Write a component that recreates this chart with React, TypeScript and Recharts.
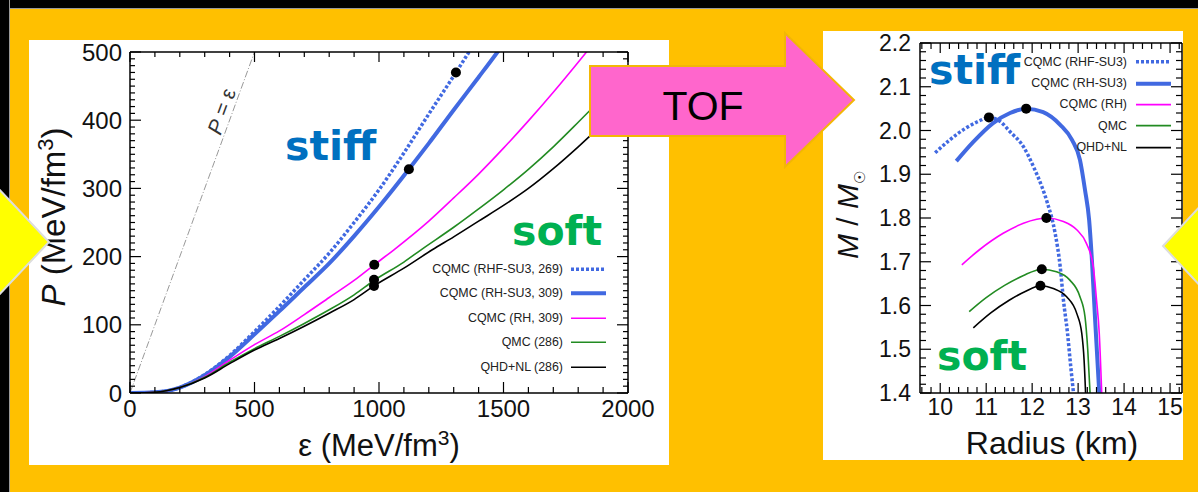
import React from 'react';
import { ComposedChart, Line, XAxis, YAxis, Legend } from 'recharts';

const FONT = '"Liberation Sans", Arial, Helvetica, sans-serif';
const BOLD_FONT = '"DejaVu Sans", Verdana, sans-serif';
const ORANGE = '#FFC000';
const BLUE = '#4169E1';
const MAGENTA = '#FF00FF';
const GREEN = '#228B22';
const STIFF = '#0070C0';
const SOFT = '#00B050';

// equation of state: energy density eps vs pressure P (both MeV/fm^3)
const eosRhfSu3: [number, number][] = [
  [0, 0], [100, 1], [200, 8], [300, 27], [400, 55], [500, 90], [600, 127], [700, 166],
  [800, 205], [900, 250], [1000, 298], [1100, 352], [1200, 409], [1309, 470], [1365, 502], [1400, 522],
];
const eosRhSu3: [number, number][] = [
  [0, 0], [100, 1], [200, 8], [300, 26], [400, 53], [500, 86], [600, 120], [700, 155],
  [800, 190], [900, 230], [1000, 273], [1120, 328], [1200, 366], [1300, 415], [1400, 463], [1476, 500], [1500, 512],
];
const eosRh: [number, number][] = [
  [0, 0], [100, 1], [200, 8], [300, 24], [400, 48], [500, 71], [600, 91], [700, 115],
  [800, 140], [900, 165], [981, 188], [1060, 210], [1200, 252], [1300, 286], [1400, 321],
  [1500, 359], [1600, 399], [1700, 441], [1800, 485], [1840, 503],
];
const eosQmc: [number, number][] = [
  [0, 0], [100, 1], [200, 8], [300, 23], [400, 45], [500, 65], [600, 83], [700, 102],
  [800, 122], [900, 144], [980, 165], [1100, 192], [1169, 210], [1300, 243], [1400, 270],
  [1500, 298], [1600, 328], [1700, 361], [1800, 397], [1900, 434], [2000, 472],
];
const eosQhdNl: [number, number][] = [
  [0, 0], [100, 1], [200, 8], [300, 22], [400, 43], [500, 63], [600, 80], [700, 98],
  [800, 117], [900, 137], [980, 157], [1100, 183], [1214, 210], [1300, 229], [1400, 252],
  [1500, 275], [1600, 300], [1700, 329], [1800, 361], [1900, 395], [2000, 430],
];
const eosCausal: [number, number][] = [[0, 0], [500, 500]];
const eosMaxMass: [number, number][] = [[1309, 470], [1120, 328], [981, 188], [980, 166], [980, 157]];

// mass-radius: R (km) vs M / Msun
const mrRhfSu3: [number, number][] = [
  [9.89, 1.949], [10.2, 1.978], [10.55, 2.005], [10.85, 2.022], [11.06, 2.03], [11.3, 2.021],
  [11.52, 1.997], [11.81, 1.963], [12.03, 1.917], [12.21, 1.872], [12.33, 1.835], [12.5, 1.765],
  [12.61, 1.689], [12.68, 1.613], [12.77, 1.536], [12.84, 1.46], [12.92, 1.38],
];
const mrRhSu3: [number, number][] = [
  [10.35, 1.93], [10.72, 1.974], [11.15, 2.017], [11.52, 2.04], [11.87, 2.05], [12.24, 2.042],
  [12.61, 2.013], [12.87, 1.978], [13.04, 1.933], [13.15, 1.864], [13.24, 1.795], [13.3, 1.704],
  [13.37, 1.567], [13.46, 1.4], [13.47, 1.38],
];
const mrRh: [number, number][] = [
  [10.47, 1.693], [10.86, 1.728], [11.37, 1.765], [11.81, 1.788], [12.1, 1.797], [12.31, 1.8],
  [12.68, 1.792], [12.97, 1.773], [13.18, 1.742], [13.33, 1.689], [13.4, 1.613], [13.46, 1.536], [13.52, 1.38],
];
const mrQmc: [number, number][] = [
  [10.63, 1.586], [11.0, 1.618], [11.4, 1.646], [11.8, 1.668], [12.21, 1.683], [12.53, 1.677],
  [12.82, 1.658], [13.04, 1.62], [13.15, 1.574], [13.21, 1.498], [13.27, 1.38],
];
const mrQhdNl: [number, number][] = [
  [10.72, 1.549], [11.1, 1.583], [11.5, 1.612], [11.85, 1.632], [12.18, 1.645], [12.46, 1.639],
  [12.75, 1.62], [12.97, 1.582], [13.08, 1.536], [13.13, 1.475], [13.17, 1.38],
];
const mrMaxMass: [number, number][] = [[11.06, 2.03], [11.87, 2.05], [12.31, 1.8], [12.21, 1.683], [12.18, 1.645]];

const eosNames = ['CQMC (RHF-SU3, 269)', 'CQMC (RH-SU3, 309)', 'CQMC (RH, 309)', 'QMC (286)', 'QHD+NL (286)'];
const mrNames = ['CQMC (RHF-SU3)', 'CQMC (RH-SU3)', 'CQMC (RH)', 'QMC', 'QHD+NL'];

const epsTicks = [0, 500, 1000, 1500, 2000];
const presTicks = [0, 100, 200, 300, 400, 500];
const radiusTicks = [10, 11, 12, 13, 14, 15];
const massTicks = [1.4, 1.5, 1.6, 1.7, 1.8, 1.9, 2.0, 2.1, 2.2];

const radiusDomain: [number, number] = [9.56, 15.26];

const styles = [
  { color: BLUE, width: 3.5, dash: '3 2' },
  { color: BLUE, width: 4, dash: undefined },
  { color: MAGENTA, width: 1.6, dash: undefined },
  { color: GREEN, width: 1.6, dash: undefined },
  { color: '#000', width: 1.6, dash: undefined },
];

const toEos = (a: [number, number][]) => a.map(([e, p]) => ({ e, p }));
const toMr = (a: [number, number][]) => a.map(([r, m]) => ({ r, m }));

const steps = (lo: number, hi: number, step: number) => {
  const out: number[] = [];
  for (let i = 0; lo + i * step <= hi + 1e-9; i++) out.push(Math.round((lo + i * step) * 1000) / 1000);
  return out;
};

type TickCfg = {
  side: 'top' | 'bottom' | 'left' | 'right';
  majors: number[];
  bigLen: number;
  smallLen: number;
  labels?: boolean;
  fs?: number;
  gap?: number;
  fmt?: (v: number) => string;
};

const isIn = (v: number, list: number[]) => list.some((m) => Math.abs(m - v) < 1e-6);

// ticks point into the frame; labels only on bottom / left
const frameTick = (cfg: TickCfg) => (p: any) => {
  const { x, y, payload } = p;
  const v = Number(payload.value);
  const major = isIn(v, cfg.majors);
  const len = major ? cfg.bigLen : cfg.smallLen;
  let x2 = x;
  let y2 = y;
  if (cfg.side === 'bottom') y2 = y - len;
  if (cfg.side === 'top') y2 = y + len;
  if (cfg.side === 'left') x2 = x + len;
  if (cfg.side === 'right') x2 = x - len;
  let label = null;
  if (cfg.labels && major) {
    const txt = cfg.fmt ? cfg.fmt(v) : String(v);
    if (cfg.side === 'bottom') {
      label = (
        <text x={x} y={y + (cfg.gap || 14)} textAnchor="middle" dominantBaseline="central"
          fontSize={cfg.fs} fontFamily={FONT} fill="#111">{txt}</text>
      );
    } else {
      label = (
        <text x={x - (cfg.gap || 8)} y={y} textAnchor="end" dominantBaseline="central"
          fontSize={cfg.fs} fontFamily={FONT} fill="#111">{txt}</text>
      );
    }
  }
  return (
    <g>
      <line x1={x} y1={y} x2={x2} y2={y2} stroke="#000" strokeWidth={1.2} />
      {label}
    </g>
  );
};

const LegendBox = ({ names, textWidth, rowH, x1, x2 }: any) => (
  <div style={{ fontFamily: FONT, fontSize: 12.4, color: '#222', lineHeight: 1 }}>
    {names.map((n: string, i: number) => (
      <div key={n} style={{ display: 'flex', alignItems: 'center', height: rowH }}>
        <span style={{ width: textWidth, textAlign: 'right', whiteSpace: 'nowrap' }}>{n}</span>
        <svg width={x2 + 2} height={rowH}>
          <line x1={x1} x2={x2} y1={rowH / 2} y2={rowH / 2} stroke={styles[i].color}
            strokeWidth={styles[i].width} strokeDasharray={styles[i].dash} />
        </svg>
      </div>
    ))}
  </div>
);

const axisLine = { stroke: '#000', strokeWidth: 1.5 };

const EosChart = () => {
  const series = [eosRhfSu3, eosRhSu3, eosRh, eosQmc, eosQhdNl];
  const epsAll = steps(0, 2000, 100);
  const presAll = steps(0, 500, 10);
  return (
    <ComposedChart width={640} height={425} margin={{ top: 11, right: 40, bottom: 71, left: 100 }}>
      <XAxis dataKey="e" type="number" domain={[0, 2000]} allowDataOverflow ticks={epsAll} interval={0}
        height={1} tickSize={0} tickMargin={0} tickLine={false} axisLine={axisLine}
        tick={frameTick({ side: 'bottom', majors: epsTicks, bigLen: 11, smallLen: 6, labels: true, fs: 24, gap: 15 })} />
      <XAxis xAxisId="top" orientation="top" dataKey="e" type="number" domain={[0, 2000]} allowDataOverflow
        ticks={epsAll} interval={0} height={1} tickSize={0} tickMargin={0} tickLine={false} axisLine={axisLine}
        tick={frameTick({ side: 'top', majors: epsTicks, bigLen: 10, smallLen: 5 })} />
      <YAxis type="number" domain={[0, 500]} allowDataOverflow ticks={presAll} interval={0}
        width={1} tickSize={0} tickMargin={0} tickLine={false} axisLine={axisLine}
        tick={frameTick({ side: 'left', majors: presTicks, bigLen: 11, smallLen: 5, labels: true, fs: 24, gap: 8 })} />
      <YAxis yAxisId="right" orientation="right" type="number" domain={[0, 500]} allowDataOverflow
        ticks={presAll} interval={0} width={1} tickSize={0} tickMargin={0} tickLine={false} axisLine={axisLine}
        tick={frameTick({ side: 'right', majors: presTicks, bigLen: 11, smallLen: 5 })} />
      <Line data={toEos(eosCausal)} xAxisId="top" yAxisId="right" dataKey="p" stroke="none" dot={false}
        isAnimationActive={false} legendType="none" />
      <Line data={toEos(eosCausal)} dataKey="p" stroke="#999" strokeWidth={1} strokeDasharray="7 2 1 2"
        dot={false} isAnimationActive={false} legendType="none" />
      {series.map((s, i) => (
        <Line key={eosNames[i]} name={eosNames[i]} data={toEos(s)} dataKey="p" type="monotone"
          stroke={styles[i].color} strokeWidth={styles[i].width} strokeDasharray={styles[i].dash}
          dot={false} isAnimationActive={false} />
      ))}
      <Line data={toEos(eosMaxMass)} dataKey="p" stroke="none" legendType="none"
        dot={{ r: 5, fill: '#000', stroke: 'none' }} isAnimationActive={false} />
      <Legend layout="horizontal" verticalAlign="middle" align="center"
        wrapperStyle={{ left: 364, top: 216.75, width: 220 }}
        content={() => <LegendBox names={eosNames} textWidth={170} rowH={24.5} x1={8} x2={43} />} />
    </ComposedChart>
  );
};

const MrChart = () => {
  const series = [mrRhfSu3, mrRhSu3, mrRh, mrQmc, mrQhdNl];
  const rAll = steps(9.6, 15.2, 0.2);
  const mAll = steps(1.4, 2.2, 0.02);
  return (
    <ComposedChart width={360} height={429} margin={{ top: 11, right: 0, bottom: 66, left: 96 }}>
      <XAxis dataKey="r" type="number" domain={radiusDomain} allowDataOverflow ticks={rAll} interval={0}
        height={1} tickSize={0} tickMargin={0} tickLine={false} axisLine={axisLine}
        tick={frameTick({ side: 'bottom', majors: radiusTicks, bigLen: 10, smallLen: 6, labels: true, fs: 23, gap: 14 })} />
      <XAxis xAxisId="top" orientation="top" dataKey="r" type="number" domain={radiusDomain} allowDataOverflow
        ticks={rAll} interval={0} height={1} tickSize={0} tickMargin={0} tickLine={false} axisLine={axisLine}
        tick={frameTick({ side: 'top', majors: radiusTicks, bigLen: 10, smallLen: 6 })} />
      <YAxis type="number" domain={[1.4, 2.2]} allowDataOverflow ticks={mAll} interval={0}
        width={1} tickSize={0} tickMargin={0} tickLine={false} axisLine={axisLine}
        tick={frameTick({ side: 'left', majors: massTicks, bigLen: 11, smallLen: 6, labels: true, fs: 23, gap: 9, fmt: (v) => v.toFixed(1) })} />
      <YAxis yAxisId="right" orientation="right" type="number" domain={[1.4, 2.2]} allowDataOverflow
        ticks={mAll} interval={0} width={1} tickSize={0} tickMargin={0} tickLine={false} axisLine={axisLine}
        tick={frameTick({ side: 'right', majors: massTicks, bigLen: 11, smallLen: 6 })} />
      <Line data={toMr(mrMaxMass)} xAxisId="top" yAxisId="right" dataKey="m" stroke="none" dot={false}
        isAnimationActive={false} legendType="none" />
      {series.map((s, i) => (
        <Line key={mrNames[i]} name={mrNames[i]} data={toMr(s)} dataKey="m" type="monotone"
          stroke={styles[i].color} strokeWidth={styles[i].width} strokeDasharray={styles[i].dash}
          dot={false} isAnimationActive={false} />
      ))}
      <Line data={toMr(mrMaxMass)} dataKey="m" stroke="none" legendType="none"
        dot={{ r: 5, fill: '#000', stroke: 'none' }} isAnimationActive={false} />
      <Legend layout="horizontal" verticalAlign="middle" align="center"
        wrapperStyle={{ left: 184, top: 20.35, width: 170 }}
        content={() => <LegendBox names={mrNames} textWidth={120} rowH={21.3} x1={9} x2={44} />} />
    </ComposedChart>
  );
};

export default function App() {
  return (
    <div style={{ position: 'fixed', left: 0, top: 0, width: 1198, height: 492, background: ORANGE, overflow: 'hidden' }}>
      <div style={{ position: 'absolute', left: 0, top: 0, width: 1198, height: 8, background: '#000', borderBottom: '1px solid #999' }} />
      <div style={{ position: 'absolute', left: 0, top: 0, width: 9, height: 492, background: '#000', borderRight: '1px solid #999' }} />
      <div style={{ position: 'absolute', left: 29, top: 40, width: 640, height: 425, background: '#fff' }}>
        <EosChart />
      </div>
      <div style={{ position: 'absolute', left: 823, top: 31, width: 360, height: 429, background: '#fff' }}>
        <MrChart />
      </div>
      <svg width={1198} height={492} style={{ position: 'absolute', left: 0, top: 0, pointerEvents: 'none' }}>
        <text transform="translate(221,111) rotate(-70)" textAnchor="middle" dominantBaseline="central"
          fontSize={21} fontFamily={FONT} fill="#333"><tspan fontStyle="italic">P</tspan> = ε</text>
        <text transform="translate(65,217) rotate(-90)" textAnchor="middle" fontSize={33} fontFamily={FONT} fill="#111">
          <tspan fontStyle="italic">P</tspan> (MeV/fm<tspan dy={-12} fontSize={22}>3</tspan><tspan dy={12}>)</tspan>
        </text>
        <text x={379} y={456} textAnchor="middle" fontSize={31} fontFamily={FONT} fill="#111">
          ε (MeV/fm<tspan dy={-11} fontSize={21}>3</tspan><tspan dy={11}>)</tspan>
        </text>
        <text transform="translate(858,215) rotate(-90)" textAnchor="middle" fontSize={30} fontFamily={FONT} fill="#111">
          <tspan fontStyle="italic">M</tspan> / <tspan fontStyle="italic">M</tspan><tspan dy={7} fontSize={15}>☉</tspan>
        </text>
        <text x={1052} y={454} textAnchor="middle" fontSize={32} fontFamily={FONT} fill="#111">Radius (km)</text>
        <text x={285} y={160} fontSize={41} fontWeight="bold" fontFamily={BOLD_FONT} fill={STIFF}>stiff</text>
        <text x={512} y={245} fontSize={41} fontWeight="bold" fontFamily={BOLD_FONT} fill={SOFT}>soft</text>
        <text x={929} y={84} fontSize={41} fontWeight="bold" fontFamily={BOLD_FONT} fill={STIFF}>stiff</text>
        <text x={937} y={370} fontSize={41} fontWeight="bold" fontFamily={BOLD_FONT} fill={SOFT}>soft</text>
        <polygon points="590,66 785,66 785,33 854,100 785,167 785,136 590,136" fill="#FF66CC" stroke="#F2B705" strokeWidth={2} />
        <text x={703} y={120} textAnchor="middle" fontSize={41} fontFamily={FONT} fill="#000">TOF</text>
        <polygon points="-6,184 49,242 -6,300" fill="#FFFF00" stroke="#dddddd" strokeWidth={2} />
        <polygon points="1204,202 1163,246 1204,290" fill="#FFFF00" stroke="#dddddd" strokeWidth={2} />
      </svg>
    </div>
  );
}
